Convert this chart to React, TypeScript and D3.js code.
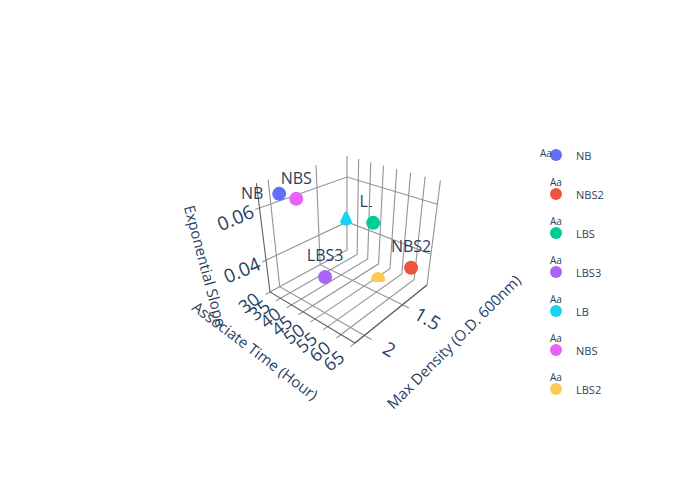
import React from "react";
import * as d3 from "d3";

const names = ["NB", "NBS2", "LBS", "LBS3", "LB", "NBS", "LBS2"];
const colors = ["#636efa", "#EF553B", "#00cc96", "#ab63fa", "#19d3f3", "#e763fa", "#fecb52"];
const timeValues = [36.75, 62.55, 47.7, 40.7, 36.9, 39.2, 55.55];
const densityValues = [2.055, 1.305, 1.32, 1.729, 1.337, 1.957, 1.505];
const slopeValues = [0.0664, 0.0368, 0.0495, 0.0304, 0.0474, 0.0643, 0.0325];
const timeTicks = [30, 35, 40, 45, 50, 55, 60, 65];
const densityTicks = [1.5, 2];
const slopeTicks = [0.04, 0.06];
const FONT = "'Open Sans', sans-serif";
const INK = "#2a3f5f";
const GRID = "#949494";
const EDGE = "#606060";

const uScale = d3.scaleLinear().domain([30, 65]).range([0, 1]);
const vScale = d3.scaleLinear().domain([1.11, 2.107]).range([0, 1]);
const wScale = d3.scaleLinear().domain([0.02616, 0.0685]).range([0, 1]);

// perspective box: screen positions of the back floor corner and its three neighbours
const O = [347, 250], U = [427, 285], V = [270, 292], W = [347, 156];
const pa = -0.1285, pb = -0.1676, pc = -0.125;
const project = (u: number, v: number, w: number): [number, number] => {
  const den = 1 + pa * u + pb * v + pc * w;
  const f = (i: number) =>
    ((U[i] * (pa + 1) - O[i]) * u + (V[i] * (pb + 1) - O[i]) * v + (W[i] * (pc + 1) - O[i]) * w + O[i]) / den;
  return [f(0), f(1)];
};
const seg = d3.line();
const path3 = (pts: [number, number, number][]) => seg(pts.map((p) => project(p[0], p[1], p[2]))) as string;

const labelPlacement: Record<string, [number, number]> = {
  NB: [-27, 5],
  NBS: [0, -15],
  LBS: [0, -16],
  LBS3: [0, -16],
  NBS2: [0, -16],
};

export default function App() {
  const pts = names.map((n, i) => ({
    n,
    c: colors[i],
    p: project(uScale(timeValues[i]), vScale(densityValues[i]), wScale(slopeValues[i])),
  }));
  return (
    <svg width={700} height={500} style={{ position: "absolute", left: 0, top: 0, background: "#fff", fontFamily: FONT }}>
      <defs>
        <clipPath id="clipLB"><polygon points="346,209 338,226 354,226" /></clipPath>
        <clipPath id="clipLBS2"><rect x={360} y={260} width={40} height={22} /></clipPath>
        <clipPath id="clipLBStext"><path d="M350,190H368.5V206H372V215H350Z" /></clipPath>
      </defs>
      <g fill="none" stroke={GRID} strokeWidth={1.1}>
        {timeTicks.map((t) => {
          const u = uScale(t);
          return <path key={t} d={path3([[u, 1.05, 0], [u, 0, 0], [u, 0, 1]])} />;
        })}
        {densityTicks.map((d) => {
          const v = vScale(d);
          return <path key={d} d={path3([[1.07, v, 0], [0, v, 0], [0, v, 1]])} />;
        })}
        {slopeTicks.map((z) => {
          const w = wScale(z);
          return <path key={z} d={path3([[0, 1.04, w], [0, 0, w], [1, 0, w]])} />;
        })}
      </g>
      <g fill="none" stroke={EDGE} strokeWidth={1.1}>
        <path d={path3([[0, 1, 1], [0, 1, 0], [1, 1, 0], [1, 0, 0]])} />
      </g>
      {pts.map((d) => (
        <circle
          key={d.n}
          cx={d.p[0]}
          cy={d.p[1]}
          r={7}
          fill={d.c}
          clipPath={d.n === "LB" ? "url(#clipLB)" : d.n === "LBS2" ? "url(#clipLBS2)" : undefined}
        />
      ))}
      {pts.filter((d) => labelPlacement[d.n]).map((d) => {
        const [dx, dy] = labelPlacement[d.n];
        return (
          <g key={d.n} clipPath={d.n === "LBS" ? "url(#clipLBStext)" : undefined}>
            <text x={d.p[0] + dx} y={d.p[1] + dy} fontSize={16} fill={INK} textAnchor="middle">{d.n}</text>
          </g>
        );
      })}
      {slopeTicks.map((z) => {
        const [x, y] = project(0, 1, wScale(z));
        return (
          <text key={z} transform={`translate(${x - 24},${y + 10}) rotate(-23)`} fontSize={19} fill={INK} textAnchor="middle" dy="0.35em">
            {z}
          </text>
        );
      })}
      {timeTicks.map((t) => {
        const u = uScale(t);
        const [x, y] = project(u, 1, 0);
        return (
          <text key={t} transform={`translate(${x - 21},${y + 11 + 7 * u}) rotate(-38)`} fontSize={18} fill={INK} textAnchor="middle" dy="0.35em">
            {t}
          </text>
        );
      })}
      {densityTicks.map((d) => {
        const [x, y] = project(1, vScale(d), 0);
        return (
          <text key={d} transform={`translate(${x + 25},${y + 14}) rotate(30)`} fontSize={19} fill={INK} textAnchor="middle" dy="0.35em">
            {d}
          </text>
        );
      })}
      <text transform="translate(205,266) rotate(75)" fontSize={15} fill={INK} textAnchor="middle" dy="0.35em">Exponential Slope</text>
      <text transform="translate(255,351) rotate(37)" fontSize={15} fill={INK} textAnchor="middle" dy="0.35em">Associate Time (Hour)</text>
      <text transform="translate(454,342) rotate(-45)" fontSize={15} fill={INK} textAnchor="middle" dy="0.35em">Max Density (O.D. 600nm)</text>
      {names.map((n, i) => {
        const y = 155 + i * 39;
        return (
          <g key={n}>
            <circle cx={556} cy={y} r={6} fill={colors[i]} />
            <text x={i === 0 ? 546 : 556} y={i === 0 ? y + 2 : y - 8} fontSize={10} fill={INK} textAnchor="middle">
              Aa
            </text>
            <text x={576} y={y + 5} fontSize={11} fill={INK}>{n}</text>
          </g>
        );
      })}
    </svg>
  );
}
